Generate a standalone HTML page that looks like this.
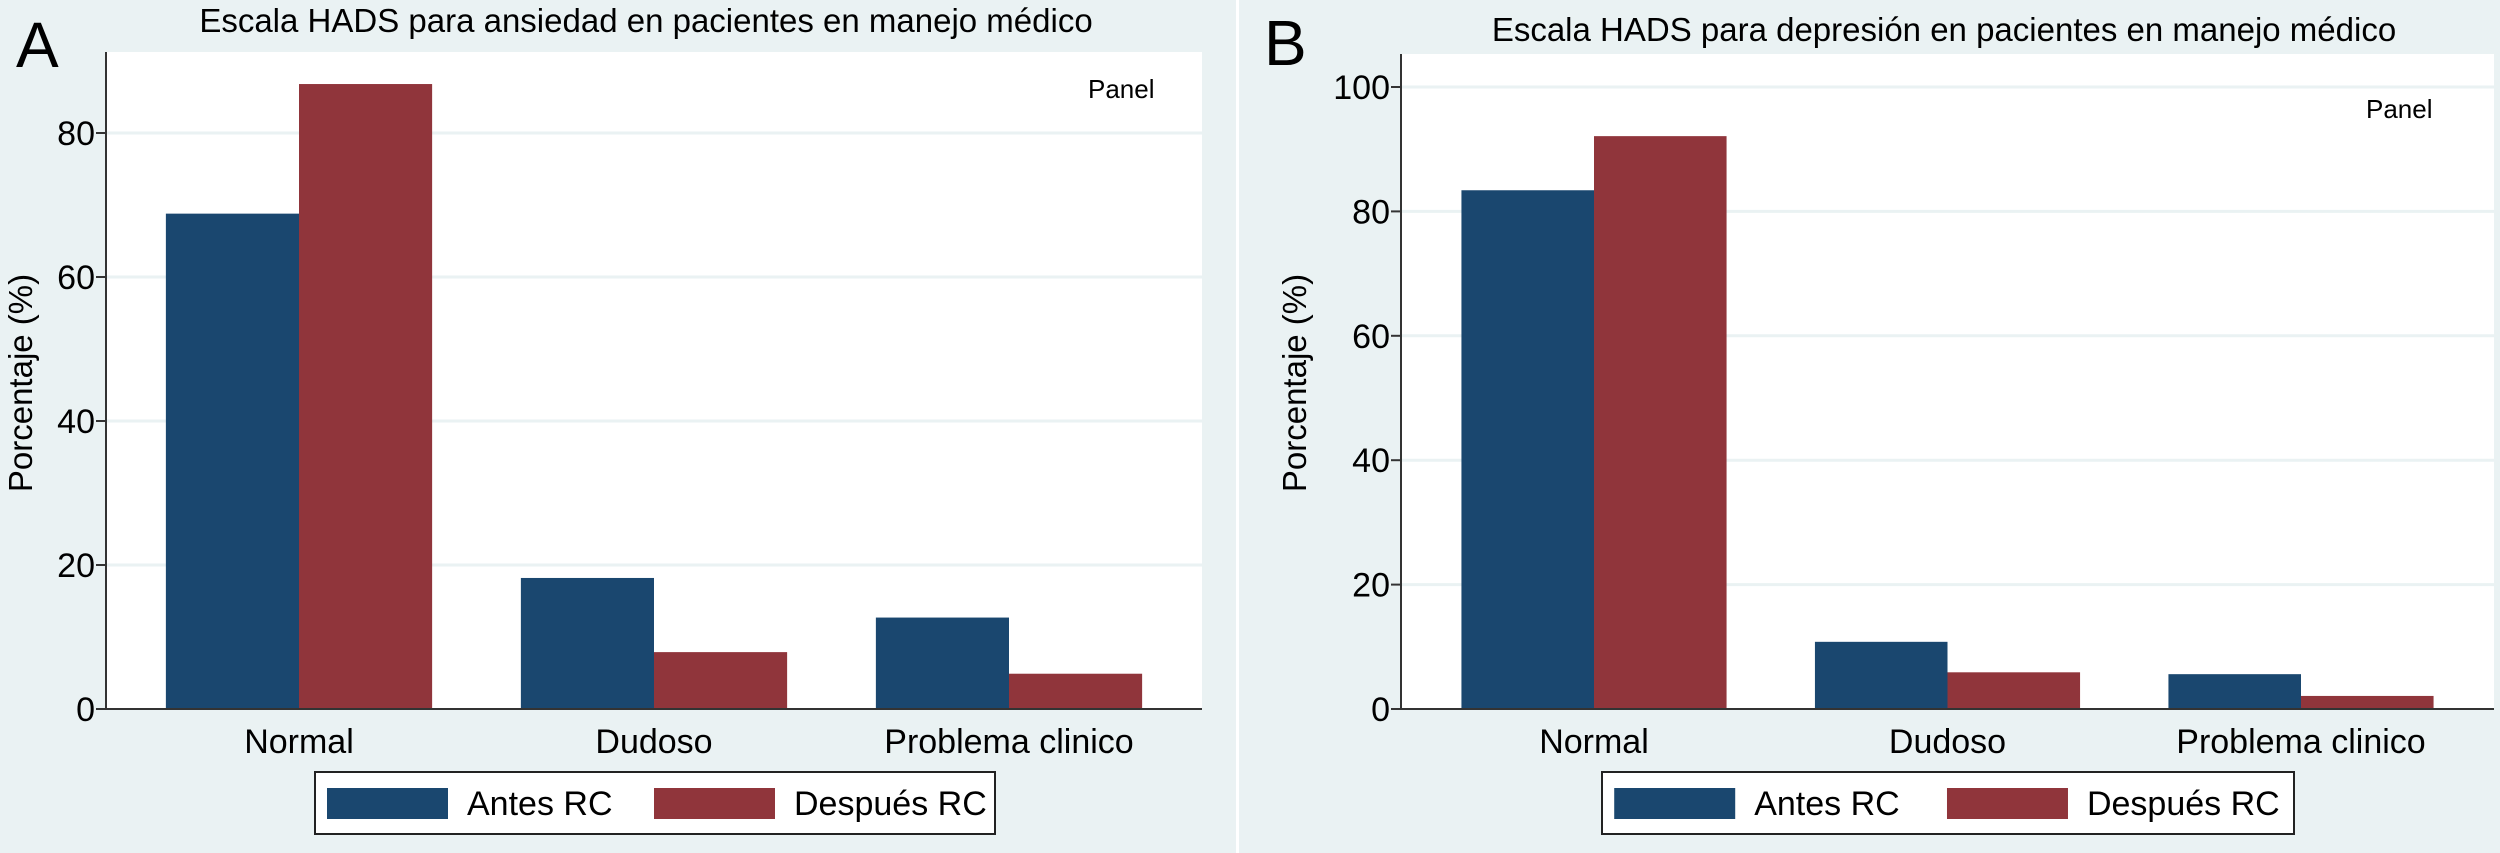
<!DOCTYPE html>
<html><head><meta charset="utf-8">
<style>
html,body{margin:0;padding:0;background:#eaf2f3;}
svg{display:block;font-family:"Liberation Sans",Arial,sans-serif;}
</style></head>
<body>
<svg id="chart" width="2500" height="853" viewBox="0 0 2500 853" xmlns="http://www.w3.org/2000/svg">
<rect x="0" y="0" width="2500" height="853" fill="#eaf2f3"/>
<rect x="1236" y="0" width="3" height="853" fill="#ffffff"/>
</svg>
<script>
const categories = ["Normal", "Dudoso", "Problema clinico"];
const seriesNames = ["Antes RC", "Después RC"];
const anxietyBefore = [68.8, 18.2, 12.7];
const anxietyAfter = [86.8, 7.9, 4.9];
const depressionBefore = [83.4, 10.8, 5.6];
const depressionAfter = [92.1, 5.9, 2.1];
const anxietyTicks = [0, 20, 40, 60, 80];
const depressionTicks = [0, 20, 40, 60, 80, 100];
const colors = ["#1a476f", "#90353b"];

const svg = document.getElementById('chart');
const NS = "http://www.w3.org/2000/svg";
function mk(tag, attrs, text){
  const e = document.createElementNS(NS, tag);
  for (const k in attrs) e.setAttribute(k, attrs[k]);
  if (text !== undefined) e.textContent = text;
  svg.appendChild(e);
  return e;
}

function panel(cfg){
  const {left, right, top, zero, pxPerUnit, ticks, before, after, title, titleX, letter, letterX, panelX, panelY, ytitleX, legendX, legendW, key} = cfg;
  const y = v => zero - v * pxPerUnit;
  const plotBg = mk('rect', {x:left, y:top, width:right-left, height:zero-top, fill:'#ffffff'});
  
  
  ticks.forEach(t => {
    if (t > 0) {
      const g = mk('line', {x1:left, x2:right, y1:y(t), y2:y(t), stroke:'#eaf2f3', 'stroke-width':3});
      
      
    }
    const tk = mk('line', {x1:left-10, x2:left, y1:y(t), y2:y(t), stroke:'#333', 'stroke-width':2});
    
    
    const tl = mk('text', {x:left-11, y:y(t)+12, 'text-anchor':'end', 'font-size':34, fill:'#000'}, String(t));
    
    
  });
  const n = categories.length;
  const pad = 193;
  const step = (right - left - 2*pad) / (n - 1);
  const bw = step * 0.375;
  categories.forEach((c, i) => {
    const cx = left + pad + i*step;
    [before[i], after[i]].forEach((v, s) => {
      const bx = s === 0 ? cx - bw : cx;
      const b = mk('rect', {x:bx, y:y(v), width:bw, height:zero-y(v), fill:colors[s]});
      
      
    });
    const cl = mk('text', {x:cx, y:zero+44, 'text-anchor':'middle', 'font-size':34, fill:'#000'}, c);
    
    
  });
  const ya = mk('line', {x1:left, x2:left, y1:top, y2:zero, stroke:'#333', 'stroke-width':2});
  
  
  const xa = mk('line', {x1:left, x2:right, y1:zero, y2:zero, stroke:'#333', 'stroke-width':2});
  
  
  const tt = mk('text', {x:titleX, y:cfg.titleY, 'text-anchor':'middle', 'font-size':33, fill:'#000'}, title);
  
  
  const lt = mk('text', {x:letterX, y:cfg.letterY, 'font-size':64, fill:'#000'}, letter);
  
  
  const pn = mk('text', {x:panelX, y:panelY, 'font-size':26, fill:'#000'}, 'Panel');
  
  
  const yt = mk('text', {x:ytitleX, y:383, 'text-anchor':'middle', 'font-size':33, fill:'#000', transform:'rotate(-90 '+ytitleX+' 383)'}, 'Porcentaje (%)');
  
  
  const lb = mk('rect', {x:legendX, y:772, width:legendW, height:62, fill:'#ffffff', stroke:'#222', 'stroke-width':2});
  
  
  const scale = legendW / 680;
  seriesNames.forEach((s, i) => {
    const sx = legendX + (i === 0 ? 12 : 339) * scale;
    const sw = mk('rect', {x:sx, y:788, width:121, height:31, fill:colors[i]});
    
    
    const st = mk('text', {x:sx+140, y:815, 'font-size':34, fill:'#000'}, s);
    
    
  });
}

panel({key:'anxiety', left:106, right:1202, top:52, zero:709, pxPerUnit:7.2, ticks:anxietyTicks,
  before:anxietyBefore, after:anxietyAfter,
  title:'Escala HADS para ansiedad en pacientes en manejo médico', titleX:646, titleY:32,
  letter:'A', letterX:16, letterY:67, panelX:1088, panelY:98, ytitleX:32, legendX:315, legendW:680});
panel({key:'depression', left:1401, right:2494, top:54, zero:709, pxPerUnit:6.22, ticks:depressionTicks,
  before:depressionBefore, after:depressionAfter,
  title:'Escala HADS para depresión en pacientes en manejo médico', titleX:1944, titleY:41,
  letter:'B', letterX:1264, letterY:65, panelX:2366, panelY:118, ytitleX:1306, legendX:1602, legendW:692});
</script>
</body></html>
